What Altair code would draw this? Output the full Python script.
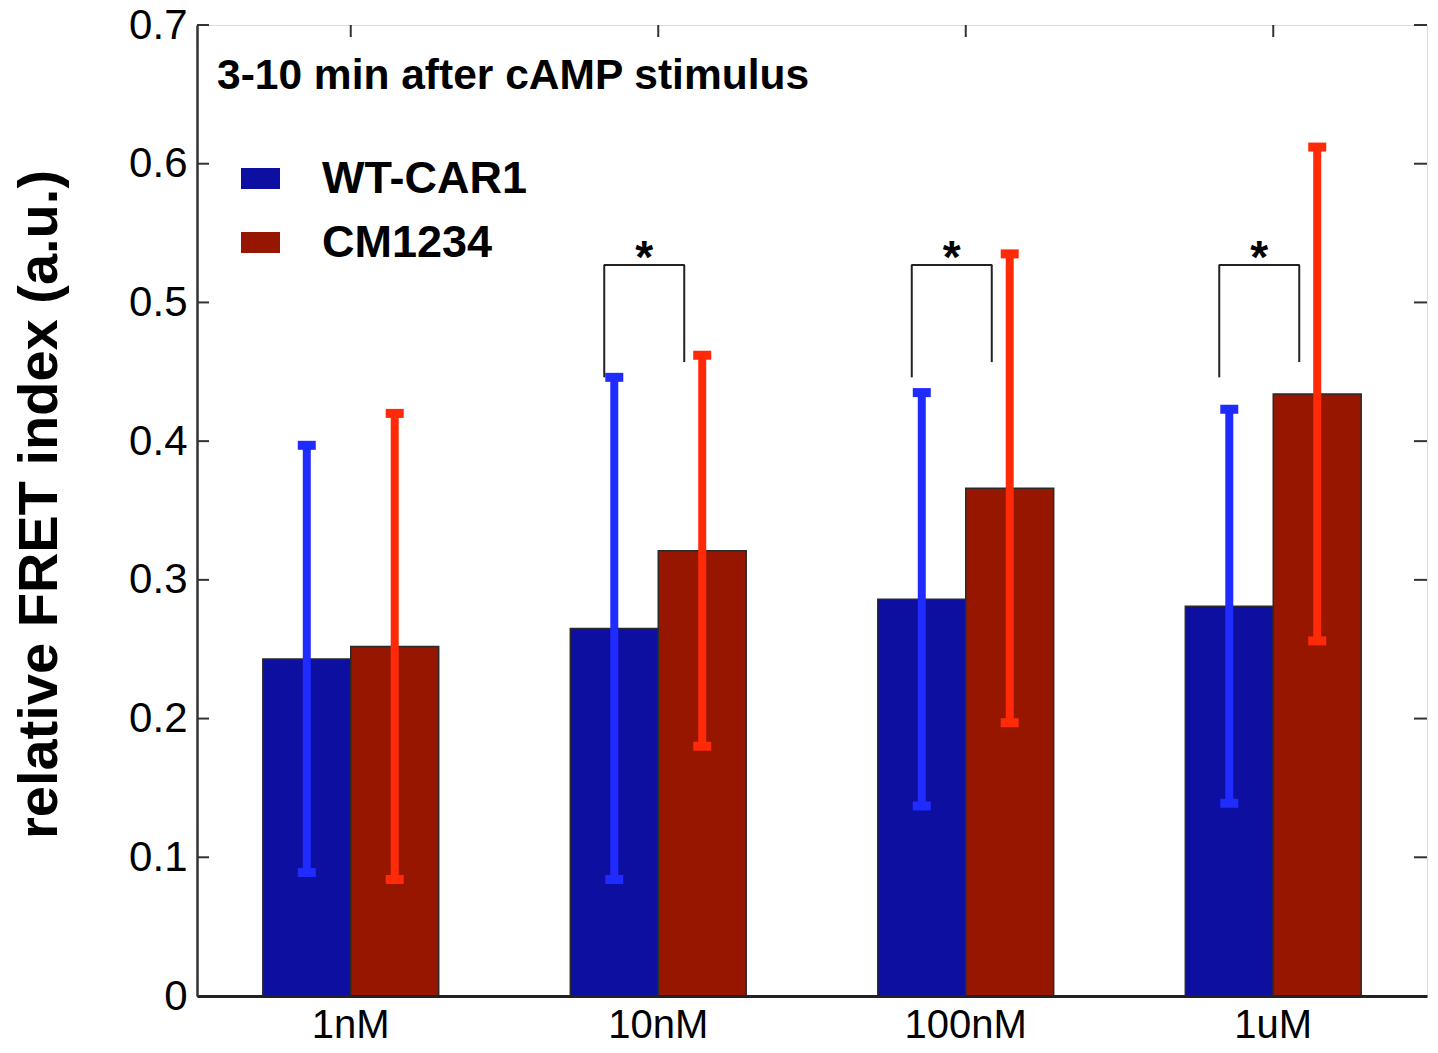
import altair as alt
import pandas as pd

conc = ["1nM", "10nM", "100nM", "1uM"]
series = ["WT-CAR1", "CM1234"]
wt_mean = [0.243, 0.265, 0.286, 0.281]
wt_err = [0.154, 0.181, 0.149, 0.142]
cm_mean = [0.252, 0.321, 0.366, 0.434]
cm_err = [0.168, 0.141, 0.169, 0.178]

sig_conc = ["10nM", "100nM", "1uM"]
sig_top = [0.527, 0.527, 0.527]
sig_left_bottom = [0.446, 0.446, 0.446]
sig_right_bottom = [0.457, 0.457, 0.457]

y_ticks = [0, 0.1, 0.2, 0.3, 0.4, 0.5, 0.6, 0.7]
title_text = ["3-10 min after cAMP stimulus"]

bar_colors = ["#0c0f9f", "#961600"]
err_colors = ["#1f2bff", "#ff2a08"]

rows = []
for i, c in enumerate(conc):
    rows.append({"conc": c, "series": series[0], "mean": wt_mean[i],
                 "lo": wt_mean[i] - wt_err[i], "hi": wt_mean[i] + wt_err[i]})
    rows.append({"conc": c, "series": series[1], "mean": cm_mean[i],
                 "lo": cm_mean[i] - cm_err[i], "hi": cm_mean[i] + cm_err[i]})
df = pd.DataFrame(rows)
sig = pd.DataFrame({"conc": sig_conc, "top": sig_top, "lb": sig_left_bottom, "rb": sig_right_bottom})
ticks_df = pd.DataFrame({"v": y_ticks})
title_df = pd.DataFrame({"t": title_text})

W, H = 1230, 971
FONT = "Liberation Sans"

xscale = alt.Scale(domain=conc, paddingInner=0.428, paddingOuter=0.214)
xaxis = alt.Axis(title=None, labelAngle=0, labelAlign="center", labelBaseline="top",
                 labelFontSize=40, labelFont=FONT, labelColor="black", labelPadding=9,
                 ticks=False, domain=True, domainColor="#222222", domainWidth=3, zindex=1)
yaxis = alt.Axis(values=y_ticks, format=".1~f", labelFontSize=42, labelFont=FONT,
                 labelColor="black", labelPadding=10, ticks=False, grid=False,
                 labelAlign="right", labelBaseline="middle",
                 domain=True, domainColor="#333333", domainWidth=2.5, zindex=1,
                 title="relative FRET index (a.u.)", titleFont=FONT, titleFontSize=56,
                 titleFontWeight="bold", titleColor="black", titleAngle=270,
                 titleX=-141, titleY=479, titleAlign="center",
                 titleBaseline="alphabetic")
Yscale = alt.Scale(domain=[0, 0.7], nice=False)


def X():
    return alt.X("conc:N", sort=conc, scale=xscale, axis=xaxis)


def Y(field):
    return alt.Y(field, scale=Yscale, axis=yaxis)


XO = alt.XOffset("series:N", sort=series, scale=alt.Scale(domain=series, paddingInner=0, paddingOuter=0))

base = alt.Chart(df)

bars = base.mark_bar(stroke="#2a2a2a", strokeWidth=1.5).encode(
    x=X(),
    xOffset=XO,
    y=Y("mean:Q"),
    color=alt.Color("series:N", sort=series, scale=alt.Scale(domain=series, range=bar_colors),
                    legend=alt.Legend(title=None, orient="none", legendX=41, legendY=131,
                                      symbolType="M-1,-0.54L1,-0.54L1,0.54L-1,0.54Z",
                                      symbolSize=1521, symbolStrokeWidth=0, symbolOpacity=1,
                                      labelFont=FONT, labelFontSize=45, labelFontWeight="bold",
                                      labelColor="black", labelOffset=39, rowPadding=18,
                                      padding=0, labelLimit=400)),
)

err_color = alt.condition(alt.datum.series == series[0], alt.value(err_colors[0]), alt.value(err_colors[1]))

err = base.mark_rule(strokeWidth=8).encode(
    x=X(), xOffset=XO, y=Y("lo:Q"), y2="hi:Q", color=err_color,
)
cap_hi = base.mark_tick(size=18, thickness=9, opacity=1).encode(
    x=X(), xOffset=XO, y=Y("hi:Q"), color=err_color,
)
cap_lo = base.mark_tick(size=18, thickness=9, opacity=1).encode(
    x=X(), xOffset=XO, y=Y("lo:Q"), color=err_color,
)

sb = alt.Chart(sig)
leg_l = sb.mark_rule(color="#222222", strokeWidth=2, xOffset=-54).encode(
    x=X(), y=Y("lb:Q"), y2="top:Q")
leg_r = sb.mark_rule(color="#222222", strokeWidth=2, xOffset=26).encode(
    x=X(), y=Y("rb:Q"), y2="top:Q")
leg_t = sb.mark_tick(color="#222222", size=81, thickness=2, opacity=1, xOffset=-14).encode(
    x=X(), y=Y("top:Q"))
star = sb.mark_text(text="*", font=FONT, fontSize=46, fontWeight="bold", color="black",
                    xOffset=-14, dy=8, baseline="alphabetic", align="center").encode(
    x=X(), y=Y("top:Q"))

tb = alt.Chart(ticks_df)
lt = tb.mark_rule(color="#333333", strokeWidth=2).encode(
    y=Y("v:Q"), x=alt.value(0), x2=alt.value(12))
rt = tb.mark_rule(color="#333333", strokeWidth=2).encode(
    y=Y("v:Q"), x=alt.value(W - 13), x2=alt.value(W))
tt = alt.Chart(pd.DataFrame({"conc": conc})).mark_rule(color="#333333", strokeWidth=2).encode(
    x=X(), y=alt.value(0), y2=alt.value(12))

title = alt.Chart(title_df).mark_text(font=FONT, fontSize=42.5, fontWeight="bold", color="black",
                                      align="left", baseline="alphabetic").encode(
    text="t:N", x=alt.value(20), y=alt.value(64))

chart = alt.layer(lt, rt, tt, bars, err, cap_hi, cap_lo, leg_l, leg_r, leg_t, star, title).properties(
    width=W, height=H,
    autosize=alt.AutoSizeParams(type="none"),
    padding={"left": 189, "top": 17, "right": 3, "bottom": 48},
).configure_view(stroke="#333333", strokeWidth=2.5).configure(background="white")

chart.save("out.html", embed_options={"renderer": "svg", "actions": False})
